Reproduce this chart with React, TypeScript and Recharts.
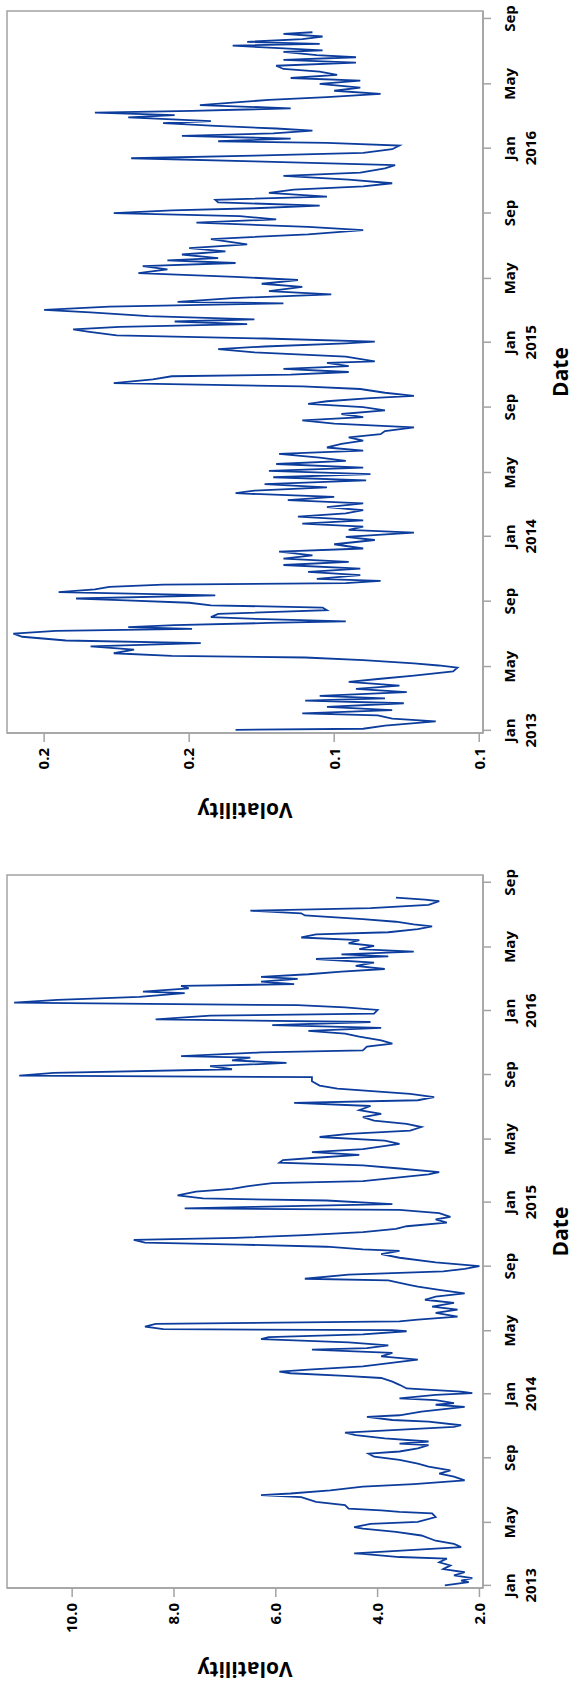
import { Label, Line, LineChart, ReferenceArea, XAxis, YAxis } from 'recharts'

const FONT = '"Open Sans", "Noto Sans", sans-serif'
const LINE_COLOR = '#0c3c9c'
const FRAME_COLOR = '#a3a3a3'
const MONTHS = ['Jan', 'Feb', 'Mar', 'Apr', 'May', 'Jun', 'Jul', 'Aug', 'Sep', 'Oct', 'Nov', 'Dec']

// left panel (percent scale), [date, volatility]
const pctSeries: [string, number][] = [
  ['2013-01-01', 2.68], ['2013-01-07', 2.21], ['2013-01-10', 2.36], ['2013-01-15', 2.14],
  ['2013-01-20', 2.5], ['2013-01-26', 2.29], ['2013-02-01', 2.71], ['2013-02-08', 2.57],
  ['2013-02-14', 2.79], ['2013-02-21', 2.64], ['2013-02-24', 3.57], ['2013-03-02', 4.29],
  ['2013-03-03', 4.46], ['2013-03-15', 2.36], ['2013-03-21', 2.5], ['2013-03-27', 2.86],
  ['2013-04-06', 3.14], ['2013-04-13', 3.64], ['2013-04-19', 4.29], ['2013-04-22', 4.46],
  ['2013-04-28', 4.14], ['2013-05-02', 3.21], ['2013-05-11', 2.86], ['2013-05-18', 2.93],
  ['2013-05-21', 3.57], ['2013-05-24', 3.93], ['2013-05-27', 4.57], ['2013-06-03', 4.64],
  ['2013-06-09', 5.21], ['2013-06-18', 5.5], ['2013-06-22', 6.29], ['2013-06-25', 5.71],
  ['2013-07-01', 4.93], ['2013-07-08', 4.29], ['2013-07-13', 3.29], ['2013-07-20', 2.29],
  ['2013-07-27', 2.5], ['2013-08-02', 2.79], ['2013-08-08', 2.57], ['2013-08-15', 3.0],
  ['2013-08-21', 3.21], ['2013-08-28', 3.57], ['2013-09-03', 4.07], ['2013-09-09', 4.18],
  ['2013-09-13', 3.57], ['2013-09-19', 3.21], ['2013-09-25', 3.0], ['2013-09-28', 3.57],
  ['2013-10-02', 3.0], ['2013-10-08', 3.86], ['2013-10-14', 4.43], ['2013-10-19', 4.64],
  ['2013-10-30', 2.5], ['2013-11-02', 2.36], ['2013-11-09', 3.0], ['2013-11-12', 3.71],
  ['2013-11-18', 4.21], ['2013-11-21', 3.57], ['2013-11-28', 3.14], ['2013-12-07', 2.29],
  ['2013-12-11', 2.86], ['2013-12-14', 2.5], ['2013-12-20', 2.86], ['2013-12-23', 3.57],
  ['2013-12-30', 2.86], ['2014-01-02', 2.14], ['2014-01-05', 2.36], ['2014-01-08', 2.86],
  ['2014-01-11', 3.43], ['2014-01-18', 3.57], ['2014-01-24', 3.71], ['2014-01-31', 3.93],
  ['2014-02-04', 4.64], ['2014-02-09', 5.71], ['2014-02-12', 5.93], ['2014-02-16', 5.36],
  ['2014-02-22', 4.29], ['2014-03-07', 3.21], ['2014-03-13', 3.93], ['2014-03-20', 3.71],
  ['2014-03-23', 4.57], ['2014-03-26', 5.29], ['2014-03-29', 4.21], ['2014-04-03', 3.79],
  ['2014-04-09', 4.57], ['2014-04-15', 6.29], ['2014-04-19', 6.14], ['2014-04-24', 4.29],
  ['2014-04-30', 3.43], ['2014-05-02', 3.71], ['2014-05-04', 8.21], ['2014-05-09', 8.57],
  ['2014-05-14', 8.36], ['2014-05-19', 3.57], ['2014-05-22', 3.21], ['2014-05-28', 2.43],
  ['2014-06-04', 2.86], ['2014-06-10', 2.43], ['2014-06-16', 2.93], ['2014-06-23', 2.5],
  ['2014-06-29', 3.07], ['2014-07-05', 2.86], ['2014-07-11', 2.29], ['2014-07-18', 2.79],
  ['2014-07-24', 3.21], ['2014-07-27', 3.36], ['2014-08-05', 3.79], ['2014-08-08', 5.43],
  ['2014-08-16', 4.57], ['2014-08-22', 2.71], ['2014-08-27', 2.29], ['2014-09-01', 2.0],
  ['2014-09-08', 2.86], ['2014-09-17', 3.57], ['2014-09-24', 3.93], ['2014-09-30', 3.57],
  ['2014-10-03', 4.29], ['2014-10-08', 5.0], ['2014-10-12', 6.71], ['2014-10-16', 8.57],
  ['2014-10-21', 8.79], ['2014-10-25', 6.79], ['2014-10-30', 5.43], ['2014-11-05', 4.29],
  ['2014-11-11', 3.64], ['2014-11-16', 3.43], ['2014-11-23', 2.64], ['2014-11-29', 2.86],
  ['2014-12-04', 2.57], ['2014-12-11', 2.79], ['2014-12-17', 3.57], ['2014-12-20', 7.79],
  ['2014-12-23', 6.43], ['2014-12-28', 3.71], ['2015-01-04', 5.0], ['2015-01-08', 7.43],
  ['2015-01-14', 7.93], ['2015-01-21', 7.57], ['2015-01-26', 6.86], ['2015-01-31', 6.57],
  ['2015-02-06', 6.07], ['2015-02-10', 4.29], ['2015-02-17', 3.57], ['2015-02-23', 3.0],
  ['2015-02-27', 2.79], ['2015-03-06', 3.57], ['2015-03-12', 4.29], ['2015-03-17', 5.93],
  ['2015-03-22', 5.86], ['2015-03-26', 5.29], ['2015-04-01', 4.36], ['2015-04-06', 5.29],
  ['2015-04-12', 4.29], ['2015-04-22', 3.57], ['2015-04-28', 3.86], ['2015-05-05', 5.14],
  ['2015-05-11', 4.57], ['2015-05-17', 3.36], ['2015-05-24', 3.14], ['2015-05-30', 3.43],
  ['2015-06-05', 4.07], ['2015-06-12', 4.29], ['2015-06-18', 3.93], ['2015-06-25', 4.36],
  ['2015-07-03', 4.14], ['2015-07-09', 5.64], ['2015-07-14', 3.21], ['2015-07-20', 2.89],
  ['2015-07-26', 3.36], ['2015-08-05', 4.79], ['2015-08-11', 5.14], ['2015-08-19', 5.29],
  ['2015-08-27', 5.29], ['2015-08-30', 11.04], ['2015-09-04', 10.36], ['2015-09-11', 6.86],
  ['2015-09-17', 7.29], ['2015-09-23', 5.79], ['2015-09-28', 6.86], ['2015-10-03', 6.5],
  ['2015-10-06', 7.86], ['2015-10-13', 6.29], ['2015-10-17', 4.29], ['2015-10-24', 4.21],
  ['2015-10-30', 3.71], ['2015-11-05', 3.93], ['2015-11-12', 4.36], ['2015-11-18', 4.64],
  ['2015-11-23', 5.36], ['2015-11-29', 3.93], ['2015-12-04', 6.07], ['2015-12-10', 4.14],
  ['2015-12-15', 8.36], ['2015-12-22', 7.29], ['2015-12-26', 4.07], ['2016-01-02', 4.0],
  ['2016-01-07', 4.64], ['2016-01-11', 5.57], ['2016-01-16', 11.14], ['2016-01-21', 10.29],
  ['2016-01-27', 8.68], ['2016-02-03', 7.79], ['2016-02-06', 8.61], ['2016-02-12', 7.71],
  ['2016-02-17', 7.86], ['2016-02-20', 5.64], ['2016-02-25', 6.29], ['2016-03-01', 5.57],
  ['2016-03-05', 6.29], ['2016-03-10', 5.36], ['2016-03-15', 4.71], ['2016-03-20', 3.86],
  ['2016-03-26', 4.43], ['2016-04-01', 4.07], ['2016-04-08', 5.21], ['2016-04-13', 3.79],
  ['2016-04-17', 4.71], ['2016-04-22', 3.29], ['2016-04-27', 4.36], ['2016-05-03', 4.07],
  ['2016-05-08', 4.57], ['2016-05-14', 4.36], ['2016-05-19', 5.5], ['2016-05-25', 5.21],
  ['2016-05-29', 3.79], ['2016-06-04', 3.21], ['2016-06-09', 2.93], ['2016-06-13', 3.29],
  ['2016-06-18', 3.64], ['2016-06-23', 4.29], ['2016-06-30', 5.43], ['2016-07-04', 5.5],
  ['2016-07-09', 6.5], ['2016-07-14', 4.14], ['2016-07-20', 3.0], ['2016-07-27', 2.79],
  ['2016-07-30', 3.07], ['2016-08-03', 3.64],
]

// right panel (decimal scale), [date, volatility]
const decSeries: [string, number][] = [
  ['2013-01-02', 0.184], ['2013-01-04', 0.14], ['2013-01-10', 0.1325], ['2013-01-18', 0.115],
  ['2013-01-23', 0.13], ['2013-01-29', 0.135], ['2013-02-02', 0.161], ['2013-02-08', 0.13],
  ['2013-02-14', 0.1525], ['2013-02-21', 0.126], ['2013-02-26', 0.16], ['2013-03-02', 0.1325],
  ['2013-03-07', 0.155], ['2013-03-14', 0.125], ['2013-03-20', 0.1425], ['2013-03-26', 0.1275],
  ['2013-04-02', 0.145], ['2013-04-08', 0.134], ['2013-04-14', 0.1225], ['2013-04-22', 0.109],
  ['2013-04-29', 0.1075], ['2013-05-03', 0.114], ['2013-05-07', 0.1225], ['2013-05-13', 0.14],
  ['2013-05-18', 0.16], ['2013-05-21', 0.206], ['2013-05-26', 0.226], ['2013-06-02', 0.219],
  ['2013-06-08', 0.234], ['2013-06-14', 0.196], ['2013-06-19', 0.2425], ['2013-06-26', 0.2575],
  ['2013-07-02', 0.2606], ['2013-07-07', 0.246], ['2013-07-11', 0.199], ['2013-07-14', 0.221],
  ['2013-07-18', 0.205], ['2013-07-22', 0.1725], ['2013-07-25', 0.146], ['2013-07-29', 0.174],
  ['2013-08-02', 0.1925], ['2013-08-08', 0.19], ['2013-08-15', 0.1525], ['2013-08-20', 0.154],
  ['2013-08-24', 0.1925], ['2013-08-29', 0.2], ['2013-09-03', 0.224], ['2013-09-06', 0.239],
  ['2013-09-12', 0.191], ['2013-09-18', 0.245], ['2013-09-23', 0.2325], ['2013-09-28', 0.2275],
  ['2013-10-02', 0.209], ['2013-10-05', 0.146], ['2013-10-09', 0.134], ['2013-10-13', 0.156],
  ['2013-10-20', 0.141], ['2013-10-26', 0.159], ['2013-11-01', 0.141], ['2013-11-08', 0.1675],
  ['2013-11-14', 0.145], ['2013-11-20', 0.1675], ['2013-11-26', 0.1575], ['2013-12-03', 0.169],
  ['2013-12-09', 0.14], ['2013-12-17', 0.15], ['2013-12-25', 0.136], ['2013-12-31', 0.146],
  ['2014-01-08', 0.1225], ['2014-01-13', 0.145], ['2014-01-19', 0.14], ['2014-01-25', 0.161],
  ['2014-01-31', 0.14], ['2014-02-07', 0.1625], ['2014-02-13', 0.146], ['2014-02-19', 0.14],
  ['2014-02-25', 0.1525], ['2014-03-04', 0.14], ['2014-03-10', 0.166], ['2014-03-16', 0.15],
  ['2014-03-23', 0.184], ['2014-03-28', 0.1775], ['2014-04-03', 0.1525], ['2014-04-09', 0.174],
  ['2014-04-16', 0.139], ['2014-04-22', 0.171], ['2014-04-28', 0.1375], ['2014-05-04', 0.1725],
  ['2014-05-10', 0.14], ['2014-05-17', 0.17], ['2014-05-23', 0.146], ['2014-05-29', 0.155],
  ['2014-06-05', 0.169], ['2014-06-11', 0.14], ['2014-06-17', 0.1525], ['2014-06-24', 0.1475],
  ['2014-06-30', 0.14], ['2014-07-06', 0.145], ['2014-07-12', 0.134], ['2014-07-18', 0.1325],
  ['2014-07-25', 0.1225], ['2014-08-01', 0.15], ['2014-08-07', 0.161], ['2014-08-13', 0.14],
  ['2014-08-19', 0.1475], ['2014-08-26', 0.1325], ['2014-09-01', 0.14], ['2014-09-07', 0.159],
  ['2014-09-12', 0.1525], ['2014-09-18', 0.1375], ['2014-09-22', 0.1225], ['2014-09-28', 0.1325],
  ['2014-10-05', 0.141], ['2014-10-10', 0.161], ['2014-10-16', 0.226], ['2014-10-23', 0.2125],
  ['2014-10-29', 0.206], ['2014-11-01', 0.165], ['2014-11-06', 0.145], ['2014-11-12', 0.1675],
  ['2014-11-17', 0.145], ['2014-11-23', 0.1525], ['2014-11-26', 0.136], ['2014-12-05', 0.146],
  ['2014-12-13', 0.1775], ['2014-12-19', 0.19], ['2014-12-24', 0.174], ['2014-12-30', 0.146],
  ['2015-01-02', 0.136], ['2015-01-08', 0.174], ['2015-01-14', 0.225], ['2015-01-21', 0.235],
  ['2015-01-25', 0.24], ['2015-01-30', 0.224], ['2015-02-04', 0.18], ['2015-02-09', 0.205],
  ['2015-02-13', 0.1775], ['2015-02-19', 0.214], ['2015-02-26', 0.234], ['2015-03-03', 0.25],
  ['2015-03-09', 0.2275], ['2015-03-15', 0.1675], ['2015-03-18', 0.204], ['2015-03-25', 0.185],
  ['2015-04-01', 0.151], ['2015-04-07', 0.1725], ['2015-04-15', 0.161], ['2015-04-21', 0.175],
  ['2015-04-28', 0.1625], ['2015-05-04', 0.184], ['2015-05-11', 0.2175], ['2015-05-18', 0.2075],
  ['2015-05-24', 0.216], ['2015-05-30', 0.184], ['2015-06-04', 0.2075], ['2015-06-08', 0.19],
  ['2015-06-15', 0.2025], ['2015-06-21', 0.1875], ['2015-06-27', 0.2], ['2015-07-04', 0.18],
  ['2015-07-14', 0.1925], ['2015-07-23', 0.159], ['2015-07-31', 0.14], ['2015-08-06', 0.159],
  ['2015-08-14', 0.1975], ['2015-08-20', 0.17], ['2015-08-26', 0.1825], ['2015-09-01', 0.226],
  ['2015-09-06', 0.206], ['2015-09-10', 0.1775], ['2015-09-15', 0.155], ['2015-09-21', 0.19],
  ['2015-09-26', 0.191], ['2015-10-02', 0.1525], ['2015-10-09', 0.1725], ['2015-10-15', 0.164],
  ['2015-10-21', 0.14], ['2015-10-27', 0.13], ['2015-11-03', 0.145], ['2015-11-10', 0.1675],
  ['2015-11-16', 0.141], ['2015-11-24', 0.1325], ['2015-11-30', 0.129], ['2015-12-07', 0.1775],
  ['2015-12-13', 0.22], ['2015-12-18', 0.1775], ['2015-12-23', 0.14], ['2015-12-30', 0.13],
  ['2016-01-06', 0.1275], ['2016-01-11', 0.1525], ['2016-01-14', 0.19], ['2016-01-19', 0.165],
  ['2016-01-24', 0.2025], ['2016-01-29', 0.171], ['2016-02-03', 0.1575], ['2016-02-07', 0.17],
  ['2016-02-12', 0.191], ['2016-02-17', 0.209], ['2016-02-21', 0.1925], ['2016-02-28', 0.221],
  ['2016-03-03', 0.205], ['2016-03-08', 0.2325], ['2016-03-11', 0.199], ['2016-03-16', 0.165],
  ['2016-03-22', 0.1963], ['2016-03-27', 0.184], ['2016-04-01', 0.1725], ['2016-04-06', 0.1525],
  ['2016-04-12', 0.134], ['2016-04-18', 0.15], ['2016-04-24', 0.141], ['2016-05-01', 0.155],
  ['2016-05-07', 0.141], ['2016-05-12', 0.165], ['2016-05-18', 0.149], ['2016-05-24', 0.155],
  ['2016-05-29', 0.1675], ['2016-06-04', 0.17], ['2016-06-10', 0.1425], ['2016-06-15', 0.1675],
  ['2016-06-20', 0.1425], ['2016-06-24', 0.156], ['2016-06-30', 0.1675], ['2016-07-03', 0.154],
  ['2016-07-07', 0.169], ['2016-07-12', 0.185], ['2016-07-15', 0.155], ['2016-07-19', 0.18],
  ['2016-07-24', 0.161], ['2016-07-29', 0.154], ['2016-08-03', 0.1675], ['2016-08-06', 0.1575],
]

const dateTicks = [
  '2013-01-01', '2013-05-01', '2013-09-01', '2014-01-01', '2014-05-01', '2014-09-01',
  '2015-01-01', '2015-05-01', '2015-09-01', '2016-01-01', '2016-05-01', '2016-09-01',
]
const dateDomain = ['2012-12-27', '2016-09-15']

const pctTicks = [2, 4, 6, 8, 10]
const pctTickLabels = ['2.0', '4.0', '6.0', '8.0', '10.0']
const pctDomain = [1.93, 11.28]

const decTicks = [0.1, 0.15, 0.2, 0.25]
const decTickLabels = ['0.1', '0.1', '0.2', '0.2']
const decDomain = [0.0987, 0.2628]

function DateTick(props: any) {
  const { x, y, payload } = props
  const d = new Date(payload.value)
  const month = MONTHS[d.getUTCMonth()]
  return (
    <text x={x} y={y} textAnchor="middle" fill="#000" fontSize={15} fontWeight={700} fontFamily={FONT}>
      <tspan x={x} dy="0.71em">{month}</tspan>
      {month === 'Jan' && (
        <tspan x={x} dy={21}>
          {d.getUTCFullYear()}
        </tspan>
      )}
    </text>
  )
}

function AxisTitle(props: any) {
  const { viewBox, text, vertical, inset } = props
  if (!viewBox) return null
  const style = { fontFamily: FONT, fontSize: 21, fontWeight: 700, fill: '#000' }
  if (vertical) {
    const x = viewBox.x + inset
    const y = viewBox.y + viewBox.height / 2
    return (
      <text x={x} y={y} transform={`rotate(-90 ${x} ${y})`} textAnchor="middle" style={style}>
        {text}
      </text>
    )
  }
  return (
    <text x={viewBox.x + viewBox.width / 2} y={viewBox.y + inset} textAnchor="middle" style={style}>
      {text}
    </text>
  )
}

type PanelProps = {
  series: [string, number][]
  ticks: number[]
  tickLabels: string[]
  domain: number[]
  left: number
  yAxisWidth: number
  rightMargin: number
  titleInset: number
}

function VolatilityPanel({ series, ticks, tickLabels, domain, left, yAxisWidth, rightMargin, titleInset }: PanelProps) {
  const data = series.map(([date, value]) => ({ t: Date.parse(date), value }))
  const xDomain = dateDomain.map((d) => Date.parse(d))
  const frame = { stroke: FRAME_COLOR, strokeWidth: 1.5 }

  return (
    <div style={{ position: 'absolute', left, top: 0 }}>
      <LineChart width={842} height={574} data={data} margin={{ top: 7, right: rightMargin, bottom: 0, left: 0 }}>
        <XAxis
          dataKey="t"
          type="number"
          domain={xDomain}
          allowDataOverflow
          ticks={dateTicks.map((d) => Date.parse(d))}
          interval={0}
          tick={<DateTick />}
          tickSize={8}
          tickMargin={13}
          height={91}
          axisLine={frame}
          tickLine={frame}
        >
          <Label content={<AxisTitle text="Date" inset={85} />} />
        </XAxis>
        <YAxis
          type="number"
          domain={domain}
          allowDataOverflow
          ticks={ticks}
          interval={0}
          width={yAxisWidth}
          tickSize={9}
          tickMargin={6}
          tickFormatter={(v: number) => tickLabels[ticks.indexOf(v)]}
          tick={{ fill: '#000', fontSize: 15, fontWeight: 700, fontFamily: FONT }}
          axisLine={frame}
          tickLine={frame}
        >
          <Label content={<AxisTitle text="Volatility" vertical inset={titleInset} />} />
        </YAxis>
        <ReferenceArea
          x1={xDomain[0]}
          x2={xDomain[1]}
          y1={domain[0]}
          y2={domain[1]}
          fill="none"
          stroke={FRAME_COLOR}
          strokeWidth={1.5}
          ifOverflow="visible"
        />
        <Line
          type="linear"
          dataKey="value"
          stroke={LINE_COLOR}
          strokeWidth={1.8}
          dot={false}
          activeDot={false}
          isAnimationActive={false}
        />
      </LineChart>
    </div>
  )
}

export default function App() {
  return (
    <div style={{ position: 'absolute', left: 0, top: 0, width: 574, height: 1684, overflow: 'hidden', background: '#fff' }}>
      <div
        style={{
          position: 'absolute',
          left: 0,
          top: 0,
          width: 1684,
          height: 574,
          transformOrigin: '0 0',
          transform: 'translate(0px, 1684px) rotate(-90deg)',
        }}
      >
        <VolatilityPanel
          series={pctSeries}
          ticks={pctTicks}
          tickLabels={pctTickLabels}
          domain={pctDomain}
          left={0}
          yAxisWidth={96}
          rightMargin={33}
          titleInset={22}
        />
        <VolatilityPanel
          series={decSeries}
          ticks={decTicks}
          tickLabels={decTickLabels}
          domain={decDomain}
          left={842}
          yAxisWidth={109}
          rightMargin={11}
          titleInset={39}
        />
      </div>
    </div>
  )
}
